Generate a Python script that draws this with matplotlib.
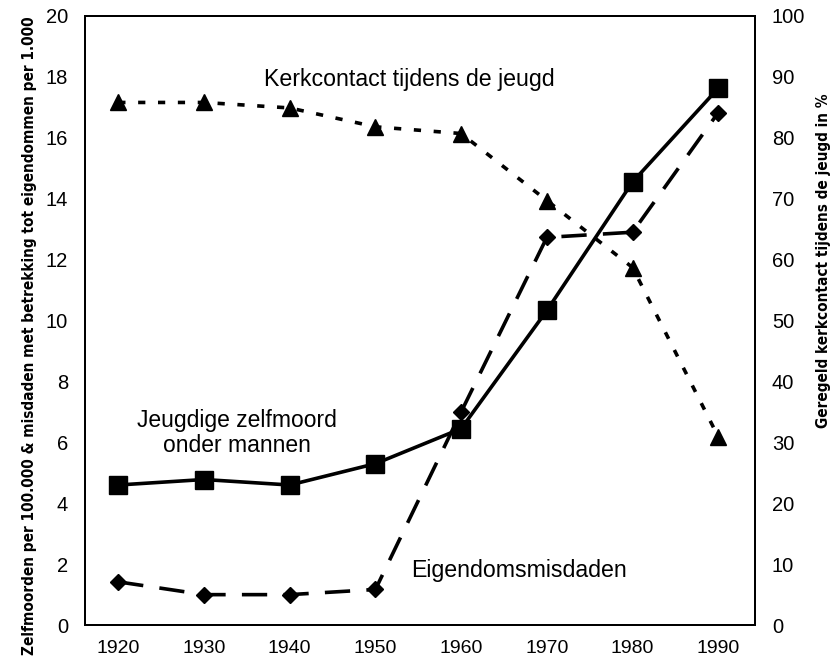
import matplotlib
matplotlib.use("Agg")
import matplotlib.pyplot as plt

# data
years = [1920, 1930, 1940, 1950, 1960, 1970, 1980, 1990]
zelfmoord = [4.6, 4.78, 4.6, 5.3, 6.45, 10.33, 14.55, 17.63]
eigendom = [1.42, 1.0, 1.0, 1.17, 7.0, 12.73, 12.9, 16.83]
kerkcontact = [85.8, 85.8, 84.9, 81.8, 80.7, 69.7, 58.7, 30.9]

left_ticks = list(range(0, 21, 2))
right_ticks = list(range(0, 101, 10))

plt.rcParams['font.family'] = ['Liberation Sans', 'DejaVu Sans']

fig = plt.figure(figsize=(8.4, 6.65), dpi=100)
ax = fig.add_axes([0.101, 0.060, 0.798, 0.916])
ax2 = ax.twinx()

ax.plot(years, zelfmoord, color="black", lw=2.6, marker="s", markersize=12.5,
        solid_joinstyle="miter")
ax.plot(years, eigendom, color="black", lw=2.6, marker="D", markersize=8,
        dashes=(7, 4.5))
ax2.plot(years, kerkcontact, color="black", lw=2.6, marker="^", markersize=11,
         dashes=(2, 3.5))

ax.set_xlim(1916.1, 1994.3)
ax.set_ylim(0, 20)
ax2.set_ylim(0, 100)
ax.set_xticks(years)
ax.set_yticks(left_ticks)
ax2.set_yticks(right_ticks)

for a in (ax, ax2):
    a.tick_params(length=0, labelsize=14.5, pad=12)
    for s in a.spines.values():
        s.set_linewidth(1.4)

ax.tick_params(axis="x", labelsize=14, pad=11)

# condensed bold axis titles
ax.set_ylabel("Zelfmoorden per 100.000 & misdaden met betrekking tot eigendommen per 1.000",
              family="DejaVu Sans", fontstretch="condensed", fontweight="bold",
              fontsize=11)
ax.yaxis.set_label_coords(-0.072, 0.475)
ax2.set_ylabel("Geregeld kerkcontact tijdens de jeugd in %",
               family="DejaVu Sans", fontstretch="condensed", fontweight="bold",
               fontsize=11)
ax2.yaxis.set_label_coords(1.091, 0.598)

ax.text(1954, 17.9, "Kerkcontact tijdens de jeugd", ha="center", va="center",
        fontsize=16.7)
ax.text(1933.9, 6.3, "Jeugdige zelfmoord\nonder mannen", ha="center", va="center",
        fontsize=16.5, linespacing=1.1)
ax.text(1966.8, 1.8, "Eigendomsmisdaden", ha="center", va="center", fontsize=16.7)

fig.savefig("out.png", dpi=100)
